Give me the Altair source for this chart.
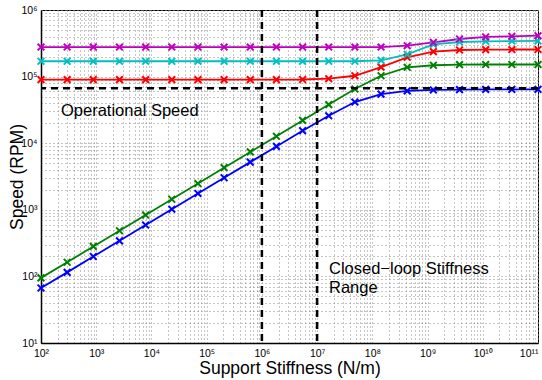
import altair as alt
import pandas as pd

# Support stiffness (N/m) at each marker
stiffness = [1.0e2, 2.976e2, 8.859e2, 2.637e3, 7.848e3, 2.336e4, 6.952e4, 2.069e5,
             6.158e5, 1.833e6, 5.456e6, 1.624e7, 4.833e7, 1.438e8, 4.281e8, 1.274e9,
             3.793e9, 1.129e10, 3.360e10, 1.0e11]

speed_blue = [67, 115, 199, 342, 590, 1020, 1760, 3030, 5200, 8950, 15400, 25800,
              41500, 54500, 61000, 63000, 63800, 64200, 64300, 64400]
speed_green = [95, 163, 282, 485, 835, 1440, 2480, 4290, 7400, 12700, 22000, 38000,
               65000, 103000, 138000, 148000, 151000, 152000, 152000, 152000]
speed_red = [90000, 90000, 90000, 90000, 90000, 90000, 90000, 90000, 90000, 90000,
             90500, 93000, 103000, 139000, 195000, 237000, 251000, 254000, 255000, 255000]
speed_cyan = [170000, 170000, 170000, 170000, 170000, 170000, 170000, 170000, 170000,
              170000, 170000, 170000, 170000, 175000, 216000, 305000, 331000, 339000,
              342000, 343000]
speed_magenta = [278000, 278000, 278000, 278000, 278000, 278000, 278000, 278000, 278000,
                 278000, 278000, 278000, 278000, 278000, 291000, 327000, 367000, 394000,
                 403000, 411000]

series_names = ["blue", "green", "red", "cyan", "magenta"]
series_colors = ["#0000FF", "#008000", "#FF0000", "#00BFBF", "#BF00BF"]

closed_loop_bounds = [1e6, 1e7]
operational_speed = [67000]

x_tick_values = [1e2, 1e3, 1e4, 1e5, 1e6, 1e7, 1e8, 1e9, 1e10, 1e11]
x_tick_labels = ["10²", "10³", "10⁴", "10⁵", "10⁶", "10⁷", "10⁸", "10⁹", "10¹⁰", "10¹¹"]
y_tick_values = [1e1, 1e2, 1e3, 1e4, 1e5, 1e6]
y_tick_labels = ["10¹", "10²", "10³", "10⁴", "10⁵", "10⁶"]

FONT = "Liberation Sans"

def grid_values(decades):
    vals = []
    for d in decades[:-1]:
        for k in range(1, 10):
            vals.append(d * k)
    vals.append(decades[-1])
    return vals

def label_expr(values, labels):
    expr = "''"
    for v, lab in reversed(list(zip(values, labels))):
        expr = f"(abs(datum.value - {v!r}) < {v!r}*1e-6) ? '{lab}' : " + expr
    return expr

rows = []
for name, vals in zip(series_names, [speed_blue, speed_green, speed_red, speed_cyan, speed_magenta]):
    for x, y in zip(stiffness, vals):
        rows.append({"k": x, "speed": y, "series": name})
df = pd.DataFrame(rows)

x_scale = alt.Scale(type="log", domain=[1e2, 1e11], nice=False)
y_scale = alt.Scale(type="log", domain=[1e1, 1e6], nice=False)
color_scale = alt.Scale(domain=series_names, range=series_colors)

x_axis = alt.Axis(
    values=grid_values(x_tick_values), labelExpr=label_expr(x_tick_values, x_tick_labels),
    grid=True, gridColor="#8a8a8a", gridDash=[1, 3], gridWidth=1,
    ticks=False, tickSize=0, labelPadding=5, labelFontSize=10.5, labelFont=FONT, labelColor="#000",
    labelOverlap=False, labelBound=False, labelFlush=False,
    labelAlign={"condition": {"test": "datum.value > 5e10", "value": "right"}, "value": "center"},
    domainColor="#000", domainWidth=1.5,
    title="Support Stiffness (N/m)", titleFont=FONT, titleFontSize=17.5, titleFontWeight="normal",
    titleColor="#000", titleY=25, titleBaseline="middle",
)
y_axis = alt.Axis(
    values=grid_values(y_tick_values), labelExpr=label_expr(y_tick_values, y_tick_labels),
    grid=True, gridColor="#8a8a8a", gridDash=[1, 3], gridWidth=1,
    ticks=False, tickSize=0, labelPadding=4, labelFontSize=10.5, labelFont=FONT, labelColor="#000",
    labelOverlap=False, labelBound=False, labelFlush=False,
    domainColor="#000", domainWidth=1.5,
    title="Speed (RPM)", titleFont=FONT, titleFontSize=17.5, titleFontWeight="normal",
    titleColor="#000", titleX=-24, titleBaseline="middle",
)

base = alt.Chart(df).encode(
    x=alt.X("k:Q", scale=x_scale, axis=x_axis),
    y=alt.Y("speed:Q", scale=y_scale, axis=y_axis),
    color=alt.Color("series:N", scale=color_scale, legend=None),
    detail="series:N",
)

lines = base.mark_line(strokeWidth=1.8)
points = base.mark_point(shape="M-1,-1L1,1M-1,1L1,-1", size=45, filled=False, strokeWidth=2, opacity=1)

vdf = pd.DataFrame({"k": closed_loop_bounds})
vrules = alt.Chart(vdf).mark_rule(color="black", strokeWidth=2.5, strokeDash=[7, 5]).encode(
    x=alt.X("k:Q", scale=x_scale)
)
hdf = pd.DataFrame({"speed": operational_speed})
hrule = alt.Chart(hdf).mark_rule(color="black", strokeWidth=2.5, strokeDash=[7, 5]).encode(
    y=alt.Y("speed:Q", scale=y_scale)
)

text1 = alt.Chart(pd.DataFrame({"t": ["Operational Speed"]})).mark_text(
    align="left", baseline="middle", font=FONT, fontSize=16.5, color="#000"
).encode(text="t:N", x=alt.value(20), y=alt.value(101))

text2 = alt.Chart(pd.DataFrame({"t": ["Closed−loop Stiffness\nRange"]})).mark_text(
    align="left", baseline="middle", font=FONT, fontSize=16.5, color="#000",
    lineBreak="\n", lineHeight=19
).encode(text="t:N", x=alt.value(288), y=alt.value(259))

chart = alt.layer(lines, points, vrules, hrule, text1, text2).properties(
    width=497, height=333,
    autosize=alt.AutoSizeParams(type="none"),
    padding={"left": 41, "top": 10, "right": 4, "bottom": 37},
    background="white",
).configure_view(stroke="#000", strokeWidth=1)

chart.save("out.html", embed_options={"renderer": "svg", "actions": False})
